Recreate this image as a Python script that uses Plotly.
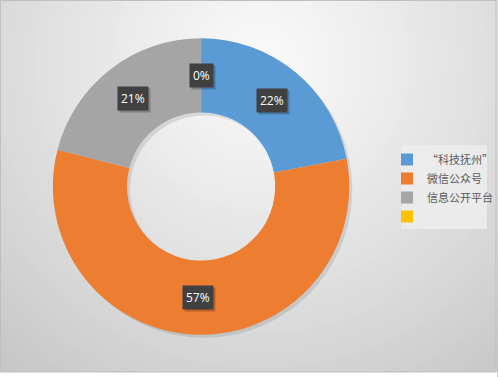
import math
import plotly.graph_objects as go

# ---- data ----
labels = ["“科技抚州”", "微信公众号", "信息公开平台", " "]
values = [22, 57, 21, 0]
colors = ["#5B9BD5", "#ED7D31", "#A5A5A5", "#FFC000"]

W, H = 498, 377
CX, CY = 201.5, 186.5      # donut centre (px)
R_OUT = 148.5
HOLE = 0.5

fig = go.Figure()

# ---- radial gradient background made of concentric circles ----
GX, GY = 262, 62
shapes = []
n = 48
rmax = 420
for i in range(n, 0, -1):
    r = rmax * i / n
    v = 251 - 0.105 * r - 0.00006 * r * r
    v = int(max(185, min(252, v)))
    col = f"rgb({v},{v},{v})"
    shapes.append(dict(type="circle", xref="paper", yref="paper",
                       x0=(GX - r) / W, x1=(GX + r) / W,
                       y0=1 - (GY + r) / H, y1=1 - (GY - r) / H,
                       fillcolor=col, line=dict(width=0), layer="below"))
# white strip below chart frame
shapes.append(dict(type="rect", xref="paper", yref="paper",
                   x0=0, x1=1, y0=0, y1=1 - 372 / H,
                   fillcolor="white", line=dict(width=0), layer="below"))
shapes.append(dict(type="rect", xref="paper", yref="paper",
                   x0=0.5 / W, x1=497 / W, y0=1 - 372 / H, y1=1 - 0.5 / H,
                   fillcolor="rgba(0,0,0,0)", line=dict(color="#BFBFBF", width=1),
                   layer="below"))
# legend backdrop
shapes.append(dict(type="rect", xref="paper", yref="paper",
                   x0=402 / W, x1=488 / W, y0=1 - 229 / H, y1=1 - 145 / H,
                   fillcolor="rgba(236,236,236,0.9)", line=dict(width=0),
                   layer="below"))

dom_x = [(CX - R_OUT) / W, (CX + R_OUT) / W]
dom_y = [1 - (CY + R_OUT) / H, 1 - (CY - R_OUT) / H]

# soft shadow ring
SH = 3
fig.add_trace(go.Pie(
    labels=labels, values=values, hole=HOLE, sort=False, direction="clockwise",
    marker=dict(colors=["rgba(0,0,0,0.10)"] * 4, line=dict(width=0)),
    textinfo="none", hoverinfo="skip", showlegend=False,
    domain=dict(x=[dom_x[0] + SH / W, dom_x[1] + SH / W],
                y=[dom_y[0] - SH / H, dom_y[1] - SH / H]),
))

fig.add_trace(go.Pie(
    labels=labels, values=values, hole=HOLE, sort=False, direction="clockwise",
    marker=dict(colors=colors, line=dict(width=0)),
    textinfo="none", showlegend=True,
    domain=dict(x=dom_x, y=dom_y),
))

# ---- data labels in dark boxes ----
total = sum(values)
r_mid = R_OUT * (1 + HOLE) / 2
cum = 0
annotations = []
for v in values:
    mid = (cum + v / 2) / total * 2 * math.pi
    cum += v
    px = CX + r_mid * math.sin(mid)
    py = CY - r_mid * math.cos(mid)
    txt = f"{round(v / total * 100)}%"
    common = dict(xref="paper", yref="paper", x=px / W, y=1 - py / H,
                  xanchor="center", yanchor="middle",
                  showarrow=False, borderpad=3)
    a_sh = dict(common)
    a_sh.update(text=txt, bgcolor="rgba(0,0,0,0.22)", xshift=2, yshift=-2,
                font=dict(family="Open Sans, Noto Sans", size=12, color="rgba(0,0,0,0)"))
    annotations.append(a_sh)
    a = dict(common)
    a.update(text=txt, bgcolor="#404040",
             font=dict(family="Open Sans, Noto Sans", size=12, color="white"))
    annotations.append(a)

fig.update_layout(
    width=W, height=H, autosize=False,
    margin=dict(l=0, r=0, t=0, b=0, pad=0),
    paper_bgcolor="white",
    shapes=shapes,
    annotations=annotations,
    legend=dict(x=388 / W, y=1 - 145 / H, xanchor="left", yanchor="top",
                bgcolor="rgba(0,0,0,0)",
                font=dict(family="Noto Sans CJK SC", size=11, color="#595959"),
                itemwidth=30, tracegroupgap=0),
)

fig.write_html("out.html", config={"displayModeBar": False},
               post_script="document.body.style.margin='0px';document.body.style.overflow='hidden';")
